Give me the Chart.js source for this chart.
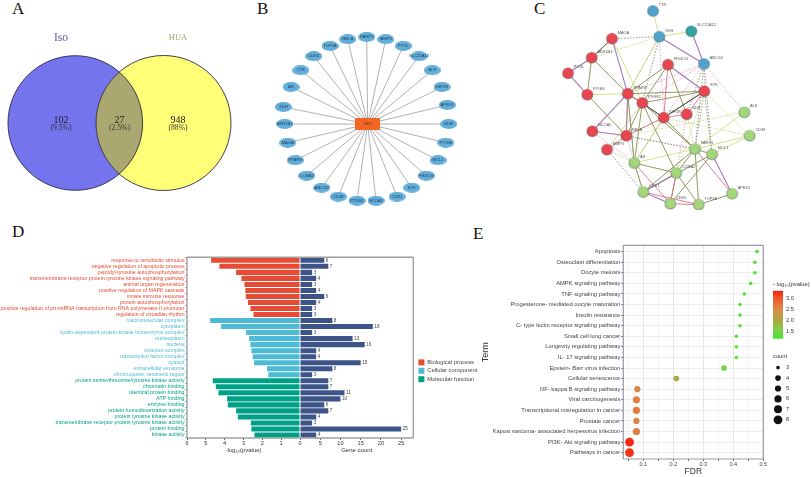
<!DOCTYPE html>
<html>
<head>
<meta charset="utf-8">
<title>Figure</title>
<script src="https://cdn.jsdelivr.net/npm/chart.js"></script>
<style>
  html, body { margin: 0; padding: 0; background: #fff; }
  #page { position: relative; width: 811px; height: 477px; overflow: hidden; }
  canvas { position: absolute; }
  .letter { position: absolute; font: 17px "Liberation Serif"; color: #111; line-height: 17px; }
</style>
</head>
<body>
<div id="page">
  <div class="letter" style="left:12px;top:0px">A</div>
  <div class="letter" style="left:257px;top:0px">B</div>
  <div class="letter" style="left:534px;top:0px">C</div>
  <div class="letter" style="left:12px;top:223px">D</div>
  <div class="letter" style="left:473px;top:225px">E</div>
</div>
<script>
// panel A
var vennSets = ['Iso', 'HUA'];
var vennX = [75.3, 163.5];
var vennY = [123, 123];
var vennR = [67.3, 67.5];
var vennCounts = ['102', '27', '948'];
var vennShares = ['(9.5%)', '(2.5%)', '(88%)'];
var vennTextX = [61, 119.5, 178];

// panel B
var ppiHub = 'ISO';
var ppiNames = ['PARP1', 'MMP3', 'PYGL', 'SLC22A12', 'ALK', 'IGF1R', 'APEX1', 'KDR', 'PYGM', 'MCL1', 'PIK3CG', 'SYK', 'CDK1', 'NCOA2',
  'PTGS2', 'CD38', 'ABCG2', 'CCNA2', 'PPARG', 'MAOA', 'AKR1B1', 'XDH', 'AR', 'TTR', 'CDK6', 'TOP2A', 'RELA'];
var ppiX = [126.7, 145.7, 163.3, 179, 192.3, 202, 207.3, 208.7, 205.7, 198, 186.3, 171.7, 157, 136, 117, 98.3, 81.7, 66.7, 55.3, 47.7, 44.7, 43.3, 51, 60.7, 73.7, 90, 107.7];
var ppiY = [37, 39.3, 46, 56.3, 70.3, 87, 105, 124, 142.7, 160.3, 175.7, 187.7, 196.7, 200.7, 200.7, 196.7, 187.7, 175.7, 160.3, 142.7, 124, 107, 87, 70.3, 56.3, 46, 39.3];
var ppiHubX = [127.7];
var ppiHubY = [124];

// panel C
var stringNames = ['TTR', 'XDH', 'SLC22A12', 'ABCG2', 'MAOA', 'AKR1B1', 'PYGL', 'PYGM', 'PIK3CG', 'PPARG', 'PTGS2', 'IGF1R', 'KDR', 'SYK',
  'NCOA2', 'RELA', 'MMP3', 'AR', 'ALK', 'CD38', 'PARP1', 'MCL1', 'CCNA2', 'CDK1', 'CDK6', 'TOP2A', 'APEX1'];
var stringX = [123, 129.3, 161.3, 174, 82, 61.7, 38, 57.3, 138, 97.7, 112.3, 133.7, 156.7, 174.3, 62.3, 96.3, 77, 104.3, 214.3, 219.7, 165, 182, 146.3, 113.3, 140.3, 168.7, 202];
var stringY = [11, 36.7, 31.3, 64, 38.7, 57.7, 73.3, 94.7, 64.7, 93.7, 103, 117.7, 114.3, 91.3, 131.3, 135.7, 149.7, 163, 112.3, 135.7, 149, 154.3, 173, 192, 203.7, 204.7, 193.7];
var stringGroup = ['b', 'b', 't', 'b', 'r', 'r', 'r', 'r', 'r', 'r', 'r', 'r', 'r', 'r', 'r', 'r', 'r', 'g', 'g', 'g', 'g', 'g', 'g', 'g', 'g', 'g', 'g'];

var edgesOlive = ['PPARG-AKR1B1', 'AKR1B1-PYGM', 'PYGM-RELA', 'PPARG-PIK3CG', 'PTGS2-PIK3CG', 'PPARG-SYK', 'PTGS2-SYK', 'IGF1R-SYK', 'IGF1R-PARP1',
  'PTGS2-PARP1', 'PARP1-CCNA2', 'MCL1-CDK1', 'PARP1-CDK1', 'PARP1-TOP2A', 'CCNA2-TOP2A', 'TOP2A-APEX1', 'PTGS2-AR', 'PPARG-AR', 'AR-CCNA2', 'PPARG-PTGS2',
  'PTGS2-RELA', 'PTGS2-CCNA2', 'AR-CDK1', 'MCL1-CDK6', 'PPARG-IGF1R', 'PARP1-MCL1', 'CCNA2-CDK6', 'PIK3CG-KDR'];
var edgesLime = ['PPARG-PYGM', 'MAOA-PTGS2', 'ALK-PARP1', 'CD38-MCL1', 'AR-PARP1', 'CD38-PARP1', 'PTGS2-MMP3', 'RELA-IGF1R', 'PPARG-XDH', 'TTR-XDH', 'XDH-SLC22A12', 'AR-IGF1R', 'PPARG-RELA'];
var edgesPurple = ['XDH-ABCG2', 'SLC22A12-ABCG2', 'MAOA-PPARG', 'PPARG-RELA', 'PYGL-PYGM', 'CDK1-CDK6', 'CDK1-CCNA2', 'PIK3CG-SYK', 'NCOA2-PPARG', 'NCOA2-RELA', 'PYGL-AKR1B1', 'MCL1-APEX1'];
var edgesRed = ['IGF1R-RELA', 'CDK6-CCNA2', 'PARP1-APEX1', 'CDK1-TOP2A', 'CDK6-TOP2A', 'RELA-MMP3', 'PPARG-PTGS2', 'AR-CDK6', 'SYK-KDR', 'PIK3CG-IGF1R', 'IGF1R-KDR'];
var edgesDark = ['PTGS2-IGF1R', 'AKR1B1-MAOA', 'SYK-IGF1R'];
var edgesDotGrey = ['MAOA-XDH', 'XDH-PPARG', 'ABCG2-PARP1', 'ABCG2-KDR', 'SYK-MCL1', 'SYK-PARP1', 'RELA-PARP1', 'IGF1R-AR', 'ABCG2-MCL1', 'XDH-PTGS2', 'PPARG-AR', 'MMP3-CDK1'];
var edgesDotPink = ['XDH-IGF1R', 'ABCG2-PPARG', 'ABCG2-ALK', 'ABCG2-IGF1R', 'KDR-CCNA2', 'RELA-CDK1', 'ABCG2-PTGS2', 'ABCG2-SYK', 'AR-IGF1R', 'NCOA2-AR', 'RELA-PARP1'];
var edgesDotLime = ['AKR1B1-XDH', 'CD38-SYK', 'SYK-CCNA2', 'RELA-ALK', 'MMP3-AR', 'KDR-PARP1', 'IGF1R-CD38'];

// panel D
var bpTerms = ['response to xenobiotic stimulus', 'negative regulation of apoptotic process', 'peptidyl-tyrosine autophosphorylation',
  'transmembrane receptor protein tyrosine kinase signaling pathway', 'animal organ regeneration', 'positive regulation of MAPK cascade',
  'innate immune response', 'protein autophosphorylation', 'positive regulation of pri-miRNA transcription from RNA polymerase II promoter', 'regulation of circadian rhythm'];
var ccTerms = ['macromolecular complex', 'cytoplasm', 'cyclin-dependent protein kinase holoenzyme complex', 'nucleoplasm', 'nucleus', 'receptor complex',
  'transcription factor complex', 'cytosol', 'extracellular exosome', 'chromosome, telomeric region'];
var mfTerms = ['protein serine/threonine/tyrosine kinase activity', 'chromatin binding', 'identical protein binding', 'ATP binding', 'enzyme binding',
  'protein homodimerization activity', 'protein tyrosine kinase activity', 'transmembrane receptor protein tyrosine kinase activity', 'protein binding', 'kinase activity'];
var bpLogP = [4.72, 4.28, 3.39, 3.11, 2.95, 2.9, 2.88, 2.76, 2.63, 2.47];
var ccLogP = [4.77, 4.19, 2.86, 2.7, 2.63, 2.58, 2.51, 2.44, 1.75, 1.68];
var mfLogP = [4.63, 4.47, 4.33, 3.87, 3.83, 3.39, 3.3, 2.61, 2.58, 2.42];
var bpCount = [6, 7, 3, 4, 3, 4, 6, 4, 3, 3];
var ccCount = [8, 18, 3, 13, 16, 4, 4, 15, 8, 3];
var mfCount = [7, 7, 11, 10, 6, 7, 4, 3, 25, 4];
var goNames = ['Biological process', 'Cellular component', 'Molecular function'];

// panel E
var keggTerms = ['Apoptosis', 'Osteoclast differentiation', 'Oocyte meiosis', 'AMPK signaling pathway', 'TNF signaling pathway',
  'Progesterone- mediated oocyte maturation', 'Insulin resistance', 'C- type lectin receptor signaling pathway', 'Small cell lung cancer',
  'Longevity regulating pathway', 'IL- 17 signaling pathway', 'Epstein- Barr virus infection', 'Cellular senescence', 'NF- kappa B signaling pathway',
  'Viral carcinogenesis', 'Transcriptional misregulation in cancer', 'Prostate cancer', 'Kaposi sarcoma- associated herpesvirus infection',
  'PI3K- Akt signaling pathway', 'Pathways in cancer'];
var keggFdr = [0.479, 0.472, 0.472, 0.458, 0.437, 0.422, 0.422, 0.422, 0.41, 0.41, 0.41, 0.369, 0.21, 0.08, 0.077, 0.077, 0.077, 0.077, 0.054, 0.054];
var keggLogP = [1.25, 1.27, 1.27, 1.3, 1.33, 1.36, 1.36, 1.36, 1.38, 1.38, 1.38, 1.5, 2.0, 2.55, 2.6, 2.65, 2.58, 2.62, 3.3, 3.25];
var keggCount = [3, 3, 3, 3, 3, 3, 3, 3, 3, 3, 3, 4, 4, 5, 6, 6, 5, 6, 8, 8];
var countLevels = [3, 4, 5, 6, 7, 8];
var countRadius = [1.8, 2.8, 3.1, 3.6, 4, 4.4];
var rampValues = [1.2, 1.6, 2.0, 2.5, 3.0, 3.35];
var rampColors = ['#47e62e', '#7cd14a', '#aaa83e', '#dc8a4c', '#f0592c', '#f6200c'];

var RED = '#E64B35', CYAN = '#4DBBD5', TEAL = '#00A087', NAVY = '#3C5488';

var page = document.getElementById('page');
Chart.defaults.animation = false;
Chart.defaults.responsive = false;
Chart.defaults.font.family = '"Liberation Sans"';
Chart.defaults.plugins.legend.display = false;
Chart.defaults.plugins.tooltip.enabled = false;
Chart.defaults.layout.padding = 0;
Chart.defaults.layout.autoPadding = false;

function addCanvas(left, top, w, h) {
  var c = document.createElement('canvas');
  c.width = w;
  c.height = h;
  c.style.left = left + 'px';
  c.style.top = top + 'px';
  page.appendChild(c);
  return c;
}

function hiddenScale(min, max, reverse) {
  return { type: 'linear', display: false, min: min, max: max, reverse: !!reverse };
}

// draws dataset.pointText next to each point
var pointTextPlugin = {
  id: 'pointText',
  afterDatasetsDraw: function(chart) {
    var ctx = chart.ctx;
    chart.data.datasets.forEach(function(ds, i) {
      if (!ds.pointText) return;
      var t = ds.textStyle;
      var els = chart.getDatasetMeta(i).data;
      ctx.save();
      ctx.font = t.font;
      ctx.fillStyle = t.color;
      ctx.textAlign = t.align || 'center';
      ctx.textBaseline = 'middle';
      ds.pointText.forEach(function(txt, k) {
        ctx.fillText(txt, els[k].x + (t.dx || 0), els[k].y + (t.dy || 0));
      });
      ctx.restore();
    });
  }
};

// plot border, sides is a string like 'ltb'
var framePlugin = {
  id: 'frame',
  afterDraw: function(chart, args, opts) {
    if (!opts.sides) return;
    var a = chart.chartArea, ctx = chart.ctx;
    ctx.save();
    ctx.strokeStyle = opts.color || '#9a9a9a';
    ctx.lineWidth = opts.width || 1.2;
    ctx.beginPath();
    if (opts.sides.indexOf('l') >= 0) { ctx.moveTo(a.left, a.top); ctx.lineTo(a.left, a.bottom); }
    if (opts.sides.indexOf('r') >= 0) { ctx.moveTo(a.right, a.top); ctx.lineTo(a.right, a.bottom); }
    if (opts.sides.indexOf('t') >= 0) { ctx.moveTo(a.left, a.top); ctx.lineTo(a.right, a.top); }
    if (opts.sides.indexOf('b') >= 0) { ctx.moveTo(a.left, a.bottom); ctx.lineTo(a.right, a.bottom); }
    ctx.stroke();
    ctx.restore();
  }
};

// the overlap of the two venn circles
var overlapPlugin = {
  id: 'overlap',
  afterDatasetsDraw: function(chart) {
    var els = chart.getDatasetMeta(0).data, ctx = chart.ctx;
    var a = els[0], b = els[1];
    var ra = a.options.radius, rb = b.options.radius;
    ctx.save();
    ctx.beginPath();
    ctx.arc(a.x, a.y, ra, 0, Math.PI * 2);
    ctx.clip();
    ctx.beginPath();
    ctx.arc(b.x, b.y, rb, 0, Math.PI * 2);
    ctx.fillStyle = '#aaa870';
    ctx.fill();
    ctx.restore();
    ctx.save();
    ctx.strokeStyle = '#2a2a44';
    ctx.lineWidth = 0.9;
    [[a, ra], [b, rb]].forEach(function(p) {
      ctx.beginPath();
      ctx.arc(p[0].x, p[0].y, p[1], 0, Math.PI * 2);
      ctx.stroke();
    });
    ctx.restore();
  }
};

function ellipseSprite(w, h, color) {
  var c = document.createElement('canvas');
  c.width = w;
  c.height = h;
  var g = c.getContext('2d');
  g.fillStyle = color;
  g.beginPath();
  g.ellipse(w / 2, h / 2, w / 2, h / 2, 0, 0, Math.PI * 2);
  g.fill();
  return c;
}

function rectSprite(w, h, color) {
  var c = document.createElement('canvas');
  c.width = w;
  c.height = h;
  var g = c.getContext('2d');
  g.fillStyle = color;
  g.fillRect(0, 0, w, h);
  return c;
}

function ballSprite(color) {
  var c = document.createElement('canvas');
  c.width = 13;
  c.height = 13;
  var g = c.getContext('2d');
  var grad = g.createRadialGradient(6.5, 5, 0.5, 6.5, 6.5, 6);
  grad.addColorStop(0, color);
  grad.addColorStop(0.75, color);
  grad.addColorStop(1, '#5a6470');
  g.fillStyle = grad;
  g.beginPath();
  g.arc(6.5, 6.5, 5.8, 0, Math.PI * 2);
  g.fill();
  return c;
}

function rampColor(v) {
  var i = 0;
  while (i < rampValues.length - 2 && v > rampValues[i + 1]) i++;
  var t = (v - rampValues[i]) / (rampValues[i + 1] - rampValues[i]);
  t = Math.max(0, Math.min(1, t));
  var a = rampColors[i], b = rampColors[i + 1], out = [];
  for (var k = 0; k < 3; k++) {
    var ca = parseInt(a.substr(1 + k * 2, 2), 16);
    var cb = parseInt(b.substr(1 + k * 2, 2), 16);
    out.push(Math.round(ca + (cb - ca) * t));
  }
  return 'rgb(' + out.join(',') + ')';
}

// ---- A venn ----
new Chart(addCanvas(0, 0, 240, 210), {
  type: 'bubble',
  data: {
    datasets: [{
      data: vennX.map(function(x, i) { return { x: x, y: vennY[i], r: vennR[i] }; }),
      backgroundColor: ['#7474ee', '#ffff77'],
      borderWidth: 0
    }, {
      data: vennTextX.map(function(x) { return { x: x, y: 120, r: 0 }; }),
      radius: 0,
      pointText: vennCounts,
      textStyle: { font: '10px "Liberation Serif"', color: '#222' }
    }, {
      data: vennTextX.map(function(x) { return { x: x, y: 128, r: 0 }; }),
      radius: 0,
      pointText: vennShares,
      textStyle: { font: '7.6px "Liberation Serif"', color: '#333' }
    }, {
      data: [{ x: 61, y: 38, r: 0 }],
      radius: 0,
      pointText: [vennSets[0]],
      textStyle: { font: '11.5px "Liberation Serif"', color: '#5a5aa8' }
    }, {
      data: [{ x: 178, y: 38, r: 0 }],
      radius: 0,
      pointText: [vennSets[1]],
      textStyle: { font: '8.5px "Liberation Serif"', color: '#a3a35e' }
    }]
  },
  options: { scales: { x: hiddenScale(0, 240), y: hiddenScale(0, 210, true) } },
  plugins: [overlapPlugin, pointTextPlugin]
});

// ---- B hub network ----
var ppiEdges = [];
ppiX.forEach(function(x, i) {
  ppiEdges.push({ x: ppiHubX[0], y: ppiHubY[0] }, { x: x, y: ppiY[i] }, { x: NaN, y: NaN });
});
var nodeEllipse = ellipseSprite(17, 10, '#62aedb');
new Chart(addCanvas(240, 0, 240, 210), {
  type: 'scatter',
  data: {
    datasets: [{
      data: [{ x: ppiHubX[0], y: ppiHubY[0] }],
      pointStyle: rectSprite(25, 12, '#f26522'),
      pointText: [ppiHub],
      textStyle: { font: '4.4px "Liberation Sans"', color: '#6a2a30' }
    }, {
      data: ppiX.map(function(x, i) { return { x: x, y: ppiY[i] }; }),
      pointStyle: nodeEllipse,
      pointText: ppiNames,
      textStyle: { font: '4.2px "Liberation Sans"', color: '#263a4a' }
    }, {
      data: ppiEdges,
      showLine: true,
      pointRadius: 0,
      borderColor: '#a8a8a8',
      borderWidth: 0.9
    }]
  },
  options: { scales: { x: hiddenScale(0, 240), y: hiddenScale(0, 210, true) } },
  plugins: [pointTextPlugin]
});

// ---- C string network ----
function edgePoints(list) {
  var pts = [];
  list.forEach(function(e) {
    var names = e.split('-');
    var a = stringNames.indexOf(names[0]), b = stringNames.indexOf(names[1]);
    pts.push({ x: stringX[a], y: stringY[a] }, { x: stringX[b], y: stringY[b] }, { x: NaN, y: NaN });
  });
  return pts;
}
function edgeSet(list, color, width, dash) {
  return { data: edgePoints(list), showLine: true, pointRadius: 0, borderColor: color, borderWidth: width, borderDash: dash || [] };
}
var balls = { r: ballSprite('#e8454f'), g: ballSprite('#a3d67a'), b: ballSprite('#4fa3c9'), t: ballSprite('#2fa6a0') };
new Chart(addCanvas(530, 0, 281, 210), {
  type: 'scatter',
  data: {
    datasets: [{
      data: stringX.map(function(x, i) { return { x: x, y: stringY[i] }; }),
      pointStyle: stringGroup.map(function(g) { return balls[g]; }),
      pointText: stringNames,
      textStyle: { font: '3.9px "Liberation Sans"', color: '#555', align: 'left', dx: 5.7, dy: -6 }
    },
      edgeSet(edgesDark, '#4a4a3a', 1),
      edgeSet(edgesRed, '#d9708a', 0.9),
      edgeSet(edgesPurple, '#a27ab8', 1.1),
      edgeSet(edgesOlive, '#8f9a5c', 1),
      edgeSet(edgesLime, '#cfe07a', 0.9),
      edgeSet(edgesDotGrey, '#8f8f80', 0.9, [1.5, 1.5]),
      edgeSet(edgesDotPink, '#e2a0c0', 0.9, [1.5, 1.5]),
      edgeSet(edgesDotLime, '#c6d878', 0.9, [1.5, 1.5])
    ]
  },
  options: { scales: { x: hiddenScale(0, 281), y: hiddenScale(0, 210, true) } },
  plugins: [pointTextPlugin]
});

// ---- D mirrored bars ----
var goTerms = bpTerms.concat(ccTerms, mfTerms);
var goLogP = bpLogP.concat(ccLogP, mfLogP);
var goCount = bpCount.concat(ccCount, mfCount);
var goColors = bpTerms.map(function() { return RED; }).concat(ccTerms.map(function() { return CYAN; }), mfTerms.map(function() { return TEAL; }));

new Chart(addCanvas(0, 245, 310, 209), {
  type: 'bar',
  data: {
    labels: goTerms,
    datasets: [{ data: goLogP, backgroundColor: goColors, barPercentage: 0.84, categoryPercentage: 1 }]
  },
  options: {
    indexAxis: 'y',
    layout: { padding: { top: 12.3, right: 10 } },
    scales: {
      x: {
        reverse: true, min: 0, max: 6,
        afterFit: function(s) { s.height = 16; },
        grid: { drawOnChartArea: false, tickLength: 2, color: '#666' },
        border: { display: false },
        ticks: { stepSize: 1, padding: 0, font: { size: 5.6 }, color: '#333', maxRotation: 0 },
        title: { display: true, text: '-log₁₀(pvalue)', font: { size: 6 }, color: '#333', padding: 0 }
      },
      y: {
        afterFit: function(s) { s.width = 187; },
        grid: { drawOnChartArea: false, tickLength: 1.5, color: function(c) { return goColors[c.index] || '#666'; } },
        border: { display: false },
        ticks: {
          autoSkip: false, padding: 1, font: { size: 5.25 },
          color: function(c) { return goColors[c.index]; }
        }
      }
    },
    plugins: { frame: { sides: 'ltb', color: '#a0a0a0', width: 1.4 } }
  },
  plugins: [framePlugin]
});

new Chart(addCanvas(290, 245, 134, 209), {
  type: 'bar',
  data: {
    labels: goTerms,
    datasets: [{ data: goCount, backgroundColor: NAVY, barPercentage: 0.84, categoryPercentage: 1 }]
  },
  options: {
    indexAxis: 'y',
    layout: { padding: { top: 12.3, left: 10, right: 10.7 } },
    scales: {
      x: {
        min: 0, max: 28,
        afterFit: function(s) { s.height = 16; },
        grid: { drawOnChartArea: false, tickLength: 2, color: '#666' },
        border: { display: false },
        ticks: {
          stepSize: 5, includeBounds: false, padding: 0, font: { size: 5.6 }, color: '#333', maxRotation: 0,
          callback: function(v) { return v === 0 ? '' : v; }
        },
        title: { display: true, text: 'Gene count', font: { size: 6 }, color: '#333', padding: 0 }
      },
      y: { display: false }
    },
    plugins: { frame: { sides: 'rtb', color: '#a0a0a0', width: 1.4 } }
  },
  plugins: [framePlugin, {
    id: 'countLabels',
    afterDatasetsDraw: function(chart) {
      var ctx = chart.ctx;
      ctx.save();
      ctx.font = '4.6px "Liberation Sans"';
      ctx.fillStyle = '#444';
      ctx.textBaseline = 'middle';
      chart.getDatasetMeta(0).data.forEach(function(el, i) {
        ctx.fillText(goCount[i], el.x + 1.5, el.y);
      });
      ctx.restore();
    }
  }]
});

new Chart(addCanvas(416, 357, 70, 70), {
  type: 'bar',
  data: {
    labels: [],
    datasets: goNames.map(function(n, i) {
      return { label: n, data: [], backgroundColor: [RED, CYAN, TEAL][i], borderWidth: 0 };
    })
  },
  options: {
    scales: { x: { display: false }, y: { display: false } },
    plugins: {
      legend: {
        display: true, position: 'top', align: 'start',
        labels: { boxWidth: 6, boxHeight: 6, padding: 2.4, font: { size: 5.8 }, color: '#444' }
      }
    }
  }
});

// ---- E dot plot ----
new Chart(addCanvas(470, 236, 300, 241), {
  type: 'scatter',
  data: {
    datasets: [{
      data: keggFdr.map(function(x, i) { return { x: x, y: i }; }),
      backgroundColor: keggLogP.map(rampColor),
      borderWidth: 0,
      pointRadius: keggCount.map(function(c) { return countRadius[countLevels.indexOf(c)]; })
    }]
  },
  options: {
    layout: { padding: { top: 9.3, right: 6.7 } },
    scales: {
      x: {
        type: 'linear', min: 0.0333, max: 0.5,
        afterFit: function(s) { s.height = 18; },
        border: { display: false },
        grid: {
          tickLength: 2,
          color: function(c) { return Math.abs(c.tick.value * 10 - Math.round(c.tick.value * 10)) < 0.01 ? '#e6e6e6' : '#f3f3f3'; },
          tickColor: '#666'
        },
        ticks: {
          stepSize: 0.05, includeBounds: false, autoSkip: false, maxRotation: 0, padding: 0, font: { size: 5.6 }, color: '#444',
          callback: function(v) { var k = Math.round(v * 100); return k % 10 === 0 ? (k / 100).toFixed(1) : ''; }
        },
        title: { display: true, text: 'FDR', font: { size: 8.5 }, color: '#333', padding: 0 }
      },
      y: {
        type: 'linear', reverse: true, min: -0.6, max: 19.6,
        afterFit: function(s) { s.width = 153.3; },
        border: { display: false },
        grid: { tickLength: 2, color: '#ececec', tickColor: '#666' },
        ticks: {
          stepSize: 1, includeBounds: false, autoSkip: false, padding: 1, font: { size: 5.8 }, color: '#444',
          callback: function(v) { return keggTerms[v]; }
        },
        title: { display: true, text: 'Term', font: { size: 9 }, color: '#333', padding: { top: 10, bottom: 0 } }
      }
    },
    plugins: { frame: { sides: 'lrtb', color: '#9a9aa6', width: 1.2 } }
  },
  plugins: [framePlugin]
});

// colour bar
new Chart(addCanvas(773, 281, 38, 64), {
  type: 'bar',
  data: {
    labels: [''],
    datasets: [{
      data: [[rampValues[0], rampValues[rampValues.length - 1]]],
      barPercentage: 1,
      categoryPercentage: 1,
      backgroundColor: function(c) {
        var y = c.chart.scales.y;
        if (!y || !c.chart.chartArea) return rampColors[0];
        var g = c.chart.ctx.createLinearGradient(0, y.getPixelForValue(rampValues[0]), 0, y.getPixelForValue(rampValues[rampValues.length - 1]));
        rampValues.forEach(function(v, i) {
          g.addColorStop((v - rampValues[0]) / (rampValues[rampValues.length - 1] - rampValues[0]), rampColors[i]);
        });
        return g;
      }
    }]
  },
  options: {
    layout: { padding: { bottom: 3.3 } },
    scales: {
      x: { display: false },
      y: {
        position: 'right', min: rampValues[0], max: rampValues[rampValues.length - 1],
        afterFit: function(s) { s.width = 28; },
        border: { display: false },
        grid: { drawOnChartArea: false, drawTicks: false },
        ticks: {
          stepSize: 0.5, includeBounds: false, padding: 3, font: { size: 5.6 }, color: '#333',
          callback: function(v) { return v.toFixed(1); }
        }
      }
    },
    plugins: {
      title: { display: true, text: '- log₁₀(pvalue)', align: 'start', font: { size: 5.8, weight: 'normal' }, color: '#333', padding: { top: 0, bottom: 2.7 } }
    }
  }
});

// size legend
new Chart(addCanvas(770, 353, 41, 72), {
  type: 'scatter',
  data: {
    datasets: [{
      data: countLevels.map(function(c) { return { x: 8, y: c }; }),
      backgroundColor: '#111',
      borderWidth: 0,
      pointRadius: countRadius,
      pointText: countLevels.map(String),
      textStyle: { font: '5.6px "Liberation Sans"', color: '#333', align: 'left', dx: 8 }
    }]
  },
  options: {
    layout: { padding: { left: 3 } },
    scales: { x: hiddenScale(3, 41), y: hiddenScale(2.5, 8.5, true) },
    plugins: {
      title: { display: true, text: 'count', align: 'start', font: { size: 5.8, weight: 'normal' }, color: '#333', padding: { top: 0, bottom: 2.5 } }
    }
  },
  plugins: [pointTextPlugin]
});
</script>
</body>
</html>
